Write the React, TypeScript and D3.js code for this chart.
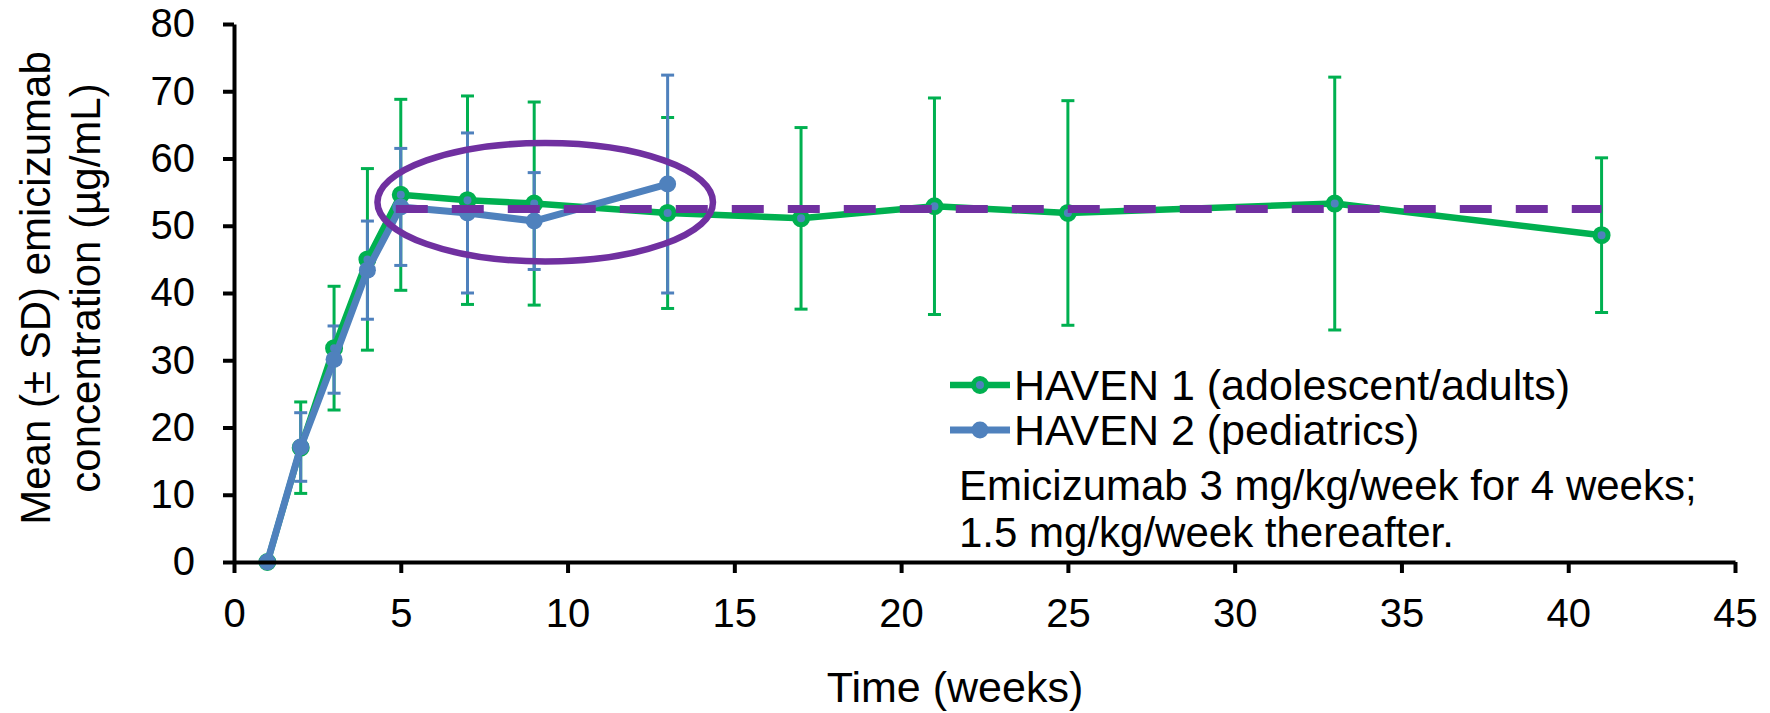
import { useEffect, useRef } from "react";
import * as d3 from "d3";

// HAVEN 1 (adolescent/adults)
const weeksHaven1 = [1, 2, 3, 4, 5, 7, 9, 13, 17, 21, 25, 33, 41];
const meanHaven1 = [0, 17, 31.8, 45, 54.6, 53.8, 53.3, 51.9, 51.1, 52.9, 51.9, 53.3, 48.6];
const sdHaven1 = [0, 6.8, 9.2, 13.5, 14.2, 15.5, 15.1, 14.2, 13.5, 16.1, 16.7, 18.8, 11.5];

// HAVEN 2 (pediatrics)
const weeksHaven2 = [1, 2, 3, 4, 5, 7, 9, 13];
const meanHaven2 = [0, 17.1, 30.1, 43.4, 52.8, 51.9, 50.7, 56.2];
const sdHaven2 = [0, 5.1, 5.0, 7.3, 8.7, 11.9, 7.2, 16.2];

// dashed steady-state reference and the circled region
const refWeeks = [4.85, 41];
const refLevel = 52.5;
const circleWeek = 9.33;
const circleLevel = 53.5;
const circleHalfWeeks = 5.03;
const circleHalfLevel = 8.8;

const xTicks = [0, 5, 10, 15, 20, 25, 30, 35, 40, 45];
const yTicks = [0, 10, 20, 30, 40, 50, 60, 70, 80];

const legendLabels = ["HAVEN 1 (adolescent/adults)", "HAVEN 2 (pediatrics)"];
const noteLines = ["Emicizumab 3 mg/kg/week for 4 weeks;", "1.5 mg/kg/week thereafter."];

const width = 1770;
const height = 713;
const marginLeft = 234;
const marginRight = 35;
const marginTop = 24;
const marginBottom = 151;
const font = "'Liberation Sans', Arial, sans-serif";

const green = "#00B050";
const blue = "#4F81BD";
const purple = "#7030A0";

const App = () => {
  const xAxisRef = useRef<SVGGElement>(null);
  const yAxisRef = useRef<SVGGElement>(null);
  const chartBottomY = height - marginBottom;

  const xScale = d3.scaleLinear().domain([0, 45]).range([marginLeft, width - marginRight]);
  const yScale = d3.scaleLinear().domain([0, 80]).range([chartBottomY, marginTop]);

  const haven1 = weeksHaven1.map((w, i) => ({ week: w, mean: meanHaven1[i], sd: sdHaven1[i] }));
  const haven2 = weeksHaven2.map((w, i) => ({ week: w, mean: meanHaven2[i], sd: sdHaven2[i] }));

  const line = d3
    .line<{ week: number; mean: number }>()
    .x((d) => xScale(d.week))
    .y((d) => yScale(d.mean));

  useEffect(() => {
    const xAxis = d3.axisBottom(xScale).tickValues(xTicks).tickSize(11).tickSizeOuter(0).tickPadding(26);
    const yAxis = d3.axisLeft(yScale).tickValues(yTicks).tickSize(11).tickSizeOuter(0).tickPadding(28);
    for (const [ref, axis] of [
      [xAxisRef, xAxis],
      [yAxisRef, yAxis],
    ] as const) {
      const g = d3.select(ref.current!);
      g.call(axis as any);
      g.attr("font-family", font).attr("font-size", 40);
      g.select(".domain").attr("stroke", "#000").attr("stroke-width", 4);
      g.selectAll(".tick line").attr("stroke", "#000").attr("stroke-width", 4);
      g.selectAll(".tick text").attr("fill", "#000");
    }
  }, []);

  const errorBars = (data: typeof haven1, color: string) =>
    data
      .filter((d) => d.sd > 0)
      .map((d) => {
        const x = xScale(d.week);
        const y1 = yScale(d.mean + d.sd);
        const y0 = yScale(d.mean - d.sd);
        return (
          <g key={d.week} stroke={color} strokeWidth={3}>
            <line x1={x} x2={x} y1={y1} y2={y0} />
            <line x1={x - 6.5} x2={x + 6.5} y1={y1} y2={y1} />
            <line x1={x - 6.5} x2={x + 6.5} y1={y0} y2={y0} />
          </g>
        );
      });

  const legendX = 950;
  const legendRowY = [385, 430];

  return (
    <div style={{ position: "absolute", left: 0, top: 0, width, height }}>
      <svg width={width} height={height} viewBox={`0 0 ${width} ${height}`} style={{ display: "block" }}>
        <rect width={width} height={height} fill="#fff" />

        <g className="error-bars">
          {errorBars(haven1, green)}
          {errorBars(haven2, blue)}
        </g>

        <g className="haven1">
          <path d={line(haven1) ?? ""} fill="none" stroke={green} strokeWidth={6.5} strokeLinejoin="round" />
          {haven1.map((d) => (
            <circle key={d.week} cx={xScale(d.week)} cy={yScale(d.mean)} r={6.5} fill={blue} stroke={green} strokeWidth={5} />
          ))}
        </g>

        <g className="haven2">
          <path d={line(haven2) ?? ""} fill="none" stroke={blue} strokeWidth={7} strokeLinejoin="round" />
          {haven2.map((d) => (
            <circle key={d.week} cx={xScale(d.week)} cy={yScale(d.mean)} r={8.5} fill={blue} />
          ))}
        </g>

        <line
          x1={xScale(refWeeks[0])}
          x2={xScale(refWeeks[1])}
          y1={yScale(refLevel)}
          y2={yScale(refLevel)}
          stroke={purple}
          strokeWidth={8}
          strokeDasharray="32 24"
        />

        <ellipse
          cx={xScale(circleWeek)}
          cy={yScale(circleLevel)}
          rx={xScale(circleWeek + circleHalfWeeks) - xScale(circleWeek)}
          ry={yScale(circleLevel - circleHalfLevel) - yScale(circleLevel)}
          fill="none"
          stroke={purple}
          strokeWidth={6.5}
        />

        <g className="x-axis" ref={xAxisRef} transform={`translate(0,${chartBottomY})`}></g>
        <g className="y-axis" ref={yAxisRef} transform={`translate(${marginLeft},0)`}></g>

        {/* legend */}
        <g fontFamily={font} fontSize={43}>
          {legendLabels.map((label, i) => {
            const color = i === 0 ? green : blue;
            const y = legendRowY[i];
            return (
              <g key={label}>
                <line x1={legendX} x2={legendX + 60} y1={y} y2={y} stroke={color} strokeWidth={i === 0 ? 6.5 : 7} />
                {i === 0 ? (
                  <circle cx={legendX + 30} cy={y} r={6.5} fill={blue} stroke={green} strokeWidth={5} />
                ) : (
                  <circle cx={legendX + 30} cy={y} r={8.5} fill={blue} />
                )}
                <text x={legendX + 64} y={y} dy="0.36em">
                  {label}
                </text>
              </g>
            );
          })}
        </g>
        <g fontFamily={font} fontSize={42}>
          {noteLines.map((t, i) => (
            <text key={t} x={959} y={500 + i * 47}>
              {t}
            </text>
          ))}
        </g>

        {/* X-axis label */}
        <text x={955} y={702} textAnchor="middle" fontFamily={font} fontSize={43}>
          Time (weeks)
        </text>
        {/* Y-axis label */}
        <text transform="translate(50,288) rotate(-90)" textAnchor="middle" fontFamily={font} fontSize={42}>
          <tspan x={0} dy={0}>Mean (± SD) emicizumab</tspan>
          <tspan x={0} dy={50}>concentration (µg/mL)</tspan>
        </text>
      </svg>
    </div>
  );
};

export default App;
